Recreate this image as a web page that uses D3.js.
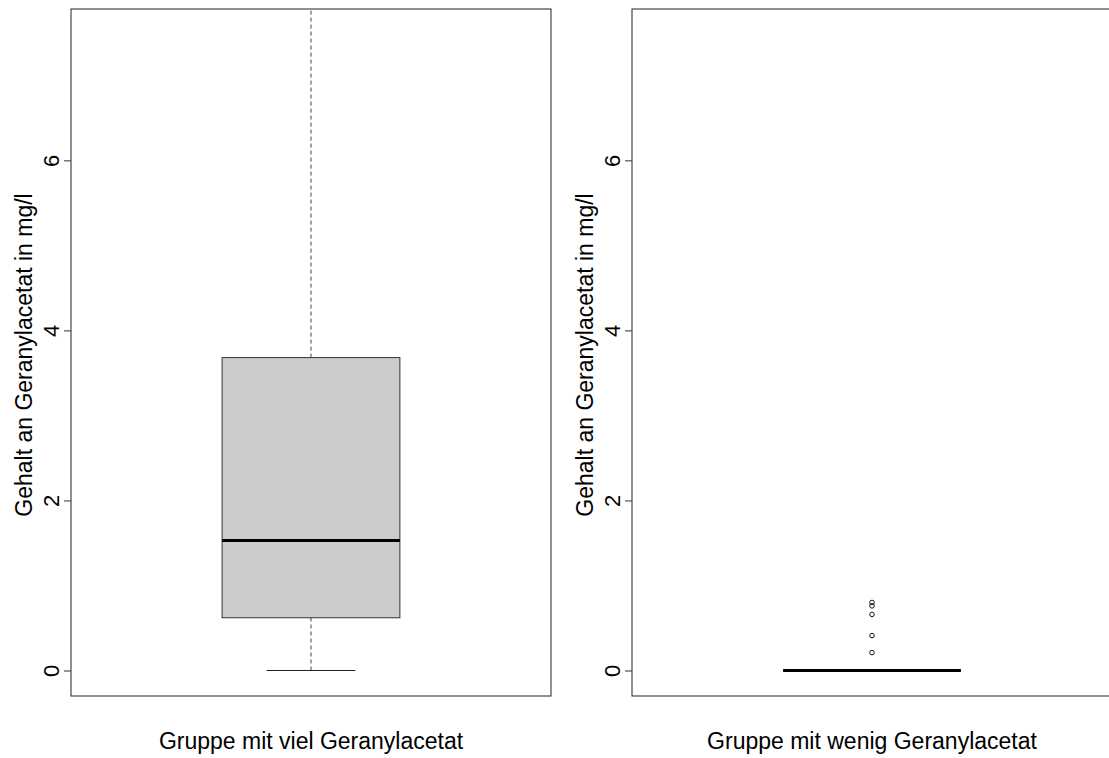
<!DOCTYPE html>
<html>
<head>
<meta charset="utf-8">
<script src="https://cdn.jsdelivr.net/npm/d3@7"></script>
<style>
  body { margin: 0; background: #fff; }
  svg { display: block; font-family: "Liberation Sans", Arial, sans-serif; }
</style>
</head>
<body>
<div id="chart"></div>
<script>
// Group labels
const groups = ['Gruppe mit viel Geranylacetat', 'Gruppe mit wenig Geranylacetat'];
// Box stats: [lower whisker, Q1, median, Q3, upper whisker]
const stats = [
    [0, 0.62, 1.53, 3.68, 8.2],
    [0, 0, 0, 0, 0]
];
const outliers = [
    [],
    [0.80, 0.76, 0.66, 0.41, 0.21]
];
const yTicks = [0, 2, 4, 6];
const yLabel = 'Gehalt an Geranylacetat in mg/l';

const W = 1109, H = 758;
const svg = d3.select('#chart').append('svg')
    .attr('width', W).attr('height', H);

const panelW = 480, plotTop = 9, plotBottom = 696;
const panelLefts = [71, 632];

const y = d3.scaleLinear().domain([-0.3, 7.78]).range([plotBottom, plotTop]);
const x = d3.scaleLinear().domain([0.46, 1.54]).range([0, panelW]);

groups.forEach((name, i) => {
    const left = panelLefts[i];
    const g = svg.append('g').attr('transform', `translate(${left},0)`);
    const s = stats[i];

    g.append('clipPath').attr('id', 'clip' + i)
        .append('rect').attr('x', 0).attr('y', plotTop).attr('width', panelW).attr('height', plotBottom - plotTop);

    const plot = g.append('g').attr('clip-path', `url(#clip${i})`);
    const cx = x(1), bw = x(1.2) - x(0.8), capW = x(1.1) - x(0.9);

    // whiskers (dashed)
    plot.append('line')
        .attr('x1', cx).attr('x2', cx).attr('y1', y(s[0])).attr('y2', y(s[1]))
        .attr('stroke', '#444').attr('stroke-dasharray', '4,3');
    plot.append('line')
        .attr('x1', cx).attr('x2', cx).attr('y1', y(s[3])).attr('y2', y(s[4]))
        .attr('stroke', '#444').attr('stroke-dasharray', '4,3');
    [s[0], s[4]].forEach(v => {
        plot.append('line')
            .attr('x1', cx - capW / 2).attr('x2', cx + capW / 2)
            .attr('y1', y(v)).attr('y2', y(v))
            .attr('stroke', '#222');
    });

    // box
    if (s[3] > s[1]) {
        plot.append('rect')
            .attr('x', cx - bw / 2).attr('y', y(s[3]))
            .attr('width', bw).attr('height', y(s[1]) - y(s[3]))
            .attr('fill', '#cccccc').attr('stroke', '#333');
    }
    // median
    plot.append('line')
        .attr('x1', cx - bw / 2).attr('x2', cx + bw / 2)
        .attr('y1', y(s[2])).attr('y2', y(s[2]))
        .attr('stroke', '#000').attr('stroke-width', 3);

    // outliers
    plot.selectAll('circle.out').data(outliers[i]).enter().append('circle')
        .attr('class', 'out')
        .attr('cx', cx).attr('cy', d => y(d)).attr('r', 2.3)
        .attr('fill', 'none').attr('stroke', '#000').attr('stroke-width', 0.9);

    // frame
    g.append('rect')
        .attr('x', 0).attr('y', plotTop).attr('width', panelW).attr('height', plotBottom - plotTop)
        .attr('fill', 'none').attr('stroke', '#222');

    // y axis
    const axis = g.append('g')
        .call(d3.axisLeft(y).tickValues(yTicks).tickSize(7).tickFormat(d3.format('d')));
    axis.select('.domain').remove();
    axis.selectAll('.tick line').attr('stroke', '#333');
    axis.selectAll('.tick text')
        .attr('x', null).attr('dy', null)
        .attr('transform', 'translate(-12,0) rotate(-90)')
        .attr('text-anchor', 'middle')
        .attr('font-size', 22)
        .attr('font-family', '"Liberation Sans", Arial, sans-serif')
        .attr('fill', '#000');

    // y label
    g.append('text')
        .attr('transform', 'translate(-39,355) rotate(-90)')
        .attr('text-anchor', 'middle')
        .attr('font-size', 23)
        .text(yLabel);

    // x label
    g.append('text')
        .attr('x', cx).attr('y', 749)
        .attr('text-anchor', 'middle')
        .attr('font-size', 23)
        .text(name);
});
</script>
</body>
</html>
